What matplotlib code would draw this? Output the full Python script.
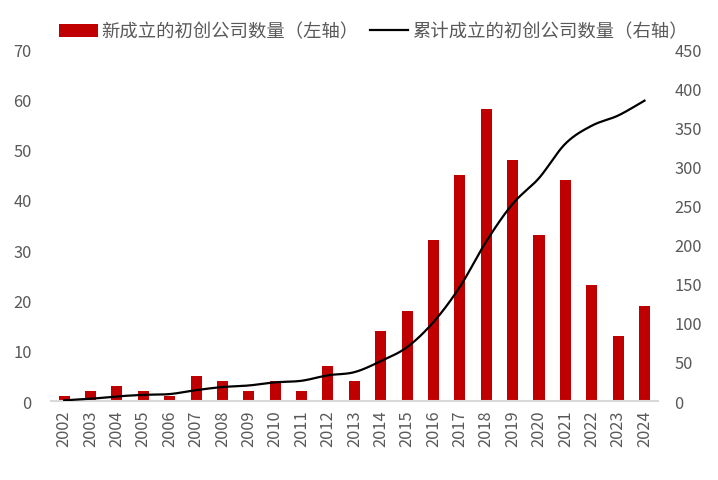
import numpy as np
import matplotlib
matplotlib.use("Agg")
import matplotlib.pyplot as plt

plt.rcParams['font.family'] = ['Noto Sans CJK SC', 'DejaVu Sans']

years = [str(y) for y in range(2002, 2025)]
new_count = [1, 2, 3, 2, 1, 5, 4, 2, 4, 2, 7, 4, 14, 18, 32, 45, 58, 48, 33, 44, 23, 13, 19]
cum_count = [1, 3, 6, 8, 9, 14, 18, 20, 24, 26, 33, 37, 51, 69, 101, 146, 204, 252, 285, 329, 352, 365, 384]

bar_label = '新成立的初创公司数量（左轴）'
line_label = '累计成立的初创公司数量（右轴）'


def smooth(xs, ys, n=20):
    # catmull-rom, like the excel smoothed line
    xs = np.asarray(xs, float)
    ys = np.asarray(ys, float)
    px = np.concatenate([[2 * xs[0] - xs[1]], xs, [2 * xs[-1] - xs[-2]]])
    py = np.concatenate([[2 * ys[0] - ys[1]], ys, [2 * ys[-1] - ys[-2]]])
    outx, outy = [], []
    t = np.linspace(0, 1, n, endpoint=False)
    for i in range(1, len(px) - 2):
        for p, o in ((px, outx), (py, outy)):
            p0, p1, p2, p3 = p[i - 1], p[i], p[i + 1], p[i + 2]
            o.extend(0.5 * (2 * p1 + (-p0 + p2) * t
                            + (2 * p0 - 5 * p1 + 4 * p2 - p3) * t ** 2
                            + (-p0 + 3 * p1 - 3 * p2 + p3) * t ** 3))
    outx.append(xs[-1])
    outy.append(ys[-1])
    return np.array(outx), np.array(outy)


fig = plt.figure(figsize=(7.18, 4.81), dpi=100)
ax = fig.add_axes([0.071, 0.164, 0.845, 0.732])
ax2 = ax.twinx()

x = np.arange(len(years))
ax.bar(x, new_count, width=0.42, color='#C00000', label=bar_label, zorder=2)
sx, sy = smooth(x, cum_count)
ax2.plot(sx, sy, color='black', lw=1.6, label=line_label)

ax.set_xlim(-0.5, len(years) - 0.5)
ax.set_ylim(0, 70)
ax.set_yticks(range(0, 71, 10))
ax2.set_ylim(0, 450)
ax2.set_yticks(range(0, 451, 50))

ax.set_xticks(x)
ax.set_xticklabels(years, rotation=90)
grey = '#595959'
for a in (ax, ax2):
    for s in a.spines.values():
        s.set_visible(False)
    a.tick_params(length=0, colors=grey, labelsize=11.8)
ax.spines['bottom'].set_visible(True)
ax.spines['bottom'].set_color('#D9D9D9')
ax.spines['bottom'].set_linewidth(1.5)
ax.tick_params(axis='x', pad=6)
ax.tick_params(axis='y', pad=14)
ax2.tick_params(axis='y', pad=12)

h1, l1 = ax.get_legend_handles_labels()
h2, l2 = ax2.get_legend_handles_labels()
fig.legend(h1 + h2, l1 + l2, loc='upper center', bbox_to_anchor=(0.52, 0.985), ncol=2,
           frameon=False, fontsize=13.2, labelcolor=grey, handlelength=2.1,
           handletextpad=0.2, columnspacing=0.6)

fig.savefig('out.png', dpi=100)
